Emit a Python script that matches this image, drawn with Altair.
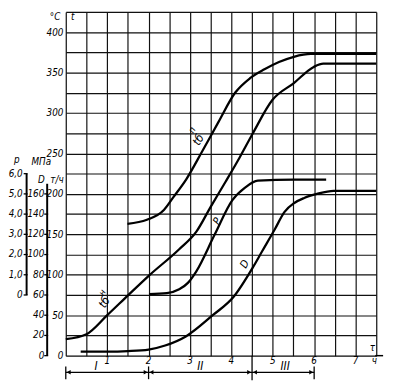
import altair as alt
import pandas as pd

FONT = "Liberation Sans Narrow, DejaVu Sans Condensed, Liberation Sans, sans-serif"

# ---------------- data ----------------
tau_grid = [0.5 * i for i in range(16)]          # vertical grid, h
t_grid = [25 * i for i in range(18)]             # horizontal grid, °C
tau_labels = [1, 2, 3, 4, 5, 6, 7]
t_axis_labels = [0, 50, 100, 150, 200, 250, 300, 350, 400]
D_axis_labels = [0, 20, 40, 60, 80, 100, 120, 140, 160]
p_axis_labels = [0, 1, 2, 3, 4, 5, 6]

# superheated steam temperature t_б^п, °C
tp_tau = [1.49, 1.96, 2.37, 2.60, 2.91, 3.3, 3.69, 4.09, 4.45, 4.80, 5.15, 5.51, 5.92, 7.5]
tp_val = [163, 168, 180, 196, 218, 253, 289, 325, 343, 354, 363, 369.5, 373, 373]
# saturation temperature t_б^н, °C
tn_tau = [0, 0.5, 0.99, 1.51, 2.01, 2.74, 3.15, 3.5, 3.86, 4.2, 4.52, 4.99, 5.51, 5.99, 6.22, 7.5]
tn_val = [20.5, 26.6, 49.5, 74.9, 99, 131.6, 153, 184, 215, 245, 275, 316, 337, 357, 361, 361]
# pressure p, MPa
p_tau = [2.01, 2.44, 2.74, 2.95, 3.15, 3.6, 4.02, 4.33, 4.64, 5.51, 6.29]
p_val = [0.04, 0.09, 0.28, 0.6, 1.16, 3.0, 4.68, 5.31, 5.65, 5.7, 5.7]
# steam flow D, t/h
D_tau = [0.36, 1.0, 1.5, 2.0, 2.4, 2.9, 3.55, 4.05, 4.53, 4.74, 5.05, 5.28, 5.52, 5.76, 6.07, 6.47, 7.5]
D_val = [4, 4, 4.5, 6, 10, 19, 40, 58, 88, 103, 125, 142, 151, 156, 160, 163, 163]

# phases
phase_start = [0, 2, 4.5]
phase_end = [2, 4.5, 6]
phase_names = ["I", "II", "III"]
phase_label_tau = [0.73, 3.25, 5.3]


# all curves share the temperature grid: p = (t-75)/25, D = 0.8 t
def p_to_t(p):
    return 75 + 25 * p


def D_to_t(d):
    return 1.25 * d


rows = []
for s, taus, vals in [("tp", tp_tau, tp_val), ("tn", tn_tau, tn_val),
                      ("p", p_tau, [p_to_t(v) for v in p_val]),
                      ("D", D_tau, [D_to_t(v) for v in D_val])]:
    for a, b in zip(taus, vals):
        rows.append({"series": s, "tau": a, "val": b})
curves = pd.DataFrame(rows)

XS = alt.Scale(domain=[0, 7.5], nice=False, zero=False)
YS = alt.Scale(domain=[0, 425], nice=False, zero=False)
XA = alt.Axis(values=tau_grid, grid=True, labels=False, ticks=False, domain=False,
              gridColor="#111", gridWidth=1.2, gridOpacity=1)
YA = alt.Axis(values=t_grid, grid=True, ticks=False, domain=False,
              gridColor="#111", gridWidth=1.2, gridOpacity=1,
              labelExpr="(datum.value % 50 == 0 && datum.value <= 400) ? datum.label : ''",
              labelFont=FONT, labelFontStyle="italic", labelFontSize=10,
              labelColor="black", labelPadding=3)


def X(field):
    return alt.X(field, type="quantitative", scale=XS, axis=XA, title=None)


def Y(field):
    return alt.Y(field, type="quantitative", scale=YS, axis=YA, title=None)


def txt(**kw):
    base = dict(font=FONT, fontStyle="italic", color="black", fontSize=10)
    base.update(kw)
    return base


lines = alt.Chart(curves).mark_line(color="black", strokeWidth=2.3, interpolate="monotone").encode(
    x=X("tau"), y=Y("val"), detail="series:N")

# curve labels
lab = pd.DataFrame({
    "text": ["tб", "п", "tб", "н", "P", "D"],
    "tau": [3.2, 3.05, 0.93, 0.88, 3.67, 4.33],
    "val": [267, 279, 66, 78, 166, 113],
    "size": [12, 9, 12, 9, 11, 11],
})
curve_labels = alt.Chart(lab).mark_text(**txt(angle=300)).encode(
    x=X("tau"), y=Y("val"), text="text:N", size=alt.Size("size:Q", scale=None))

# p axis (left column)
pdf = pd.DataFrame({"val": [p_to_t(v) for v in p_axis_labels],
                    "text": ["0" if v == 0 else f"{v:.1f}".replace(".", ",") for v in p_axis_labels]})
p_text = alt.Chart(pdf).mark_text(**txt(align="right", baseline="middle")).encode(
    x=alt.value(-44), y=Y("val"), text="text:N")
p_ticks = alt.Chart(pdf).mark_rule(color="black", strokeWidth=1.3).encode(
    x=alt.value(-43), x2=alt.value(-39), y=Y("val"))
p_bar = alt.Chart(pd.DataFrame({"val": [p_to_t(0)], "val2": [p_to_t(6)]})).mark_rule(
    color="black", strokeWidth=2).encode(x=alt.value(-40), y=Y("val"), y2="val2:Q")

# D axis
ddf = pd.DataFrame({"val": [D_to_t(v) for v in D_axis_labels], "text": [str(v) for v in D_axis_labels]})
D_text = alt.Chart(ddf).mark_text(**txt(align="right", baseline="middle")).encode(
    x=alt.value(-22), y=Y("val"), text="text:N")
D_ticks = alt.Chart(ddf).mark_rule(color="black", strokeWidth=1.3).encode(
    x=alt.value(-22), x2=alt.value(-18), y=Y("val"))
D_bar = alt.Chart(pd.DataFrame({"val": [0], "val2": [D_to_t(170)]})).mark_rule(
    color="black", strokeWidth=2).encode(x=alt.value(-19), y=Y("val"), y2="val2:Q")

# header texts (pixel positions relative to plot area)
headers = []
for s, px, py in [("p", -50, 151), ("МПа", -25, 153), ("D", -25, 172), ("т/ч", -9, 172),
                  ("°C", -11, 5), ("t", 7, 5), ("τ", 313, 343), ("ч", 315, 357)]:
    headers.append(alt.Chart(pd.DataFrame({"a": [0]})).mark_text(
        **txt(text=s, align="center", baseline="middle")).encode(x=alt.value(px), y=alt.value(py)))

# x tick labels
xl = pd.DataFrame({"tau": tau_labels, "text": [str(v) for v in tau_labels]})
x_text = alt.Chart(xl).mark_text(**txt(baseline="middle")).encode(
    x=X("tau"), y=alt.value(357), text="text:N")

# bottom line extension
ext = alt.Chart(pd.DataFrame({"a": [0]})).mark_rule(color="black", strokeWidth=1.5).encode(
    x=alt.value(316), x2=alt.value(324), y=alt.value(351))

# phases
ph = pd.DataFrame({"start": phase_start, "end": phase_end, "name": phase_names, "lt": phase_label_tau})
ph_line = alt.Chart(ph).mark_rule(color="black", strokeWidth=1.3).encode(
    x=X("start"), x2="end:Q", y=alt.value(368))
ph_text = alt.Chart(ph).mark_text(**txt(baseline="bottom", fontSize=12)).encode(
    x=X("lt"), y=alt.value(369), text="name:N")
arrow_l = alt.Chart(ph.assign(at=ph["start"] + 0.07)).mark_point(
    shape="triangle-left", filled=True, color="black", size=22, opacity=1).encode(x=X("at"), y=alt.value(368))
arrow_r = alt.Chart(ph.assign(at=ph["end"] - 0.07)).mark_point(
    shape="triangle-right", filled=True, color="black", size=22, opacity=1).encode(x=X("at"), y=alt.value(368))
short_ticks = alt.Chart(pd.DataFrame({"tau": [phase_start[0], phase_start[1], phase_end[2]]})).mark_rule(
    color="black", strokeWidth=1.3).encode(x=X("tau"), y=alt.value(362), y2=alt.value(375))
long_tick = alt.Chart(pd.DataFrame({"tau": [phase_start[2]]})).mark_rule(
    color="black", strokeWidth=1.3).encode(x=X("tau"), y=alt.value(351), y2=alt.value(376))

chart = alt.layer(
    lines, curve_labels, p_bar, p_ticks, p_text, D_bar, D_ticks, D_text, *headers,
    x_text, ext, ph_line, short_ticks, long_tick, arrow_l, arrow_r, ph_text
).properties(
    width=317, height=351,
    autosize=alt.AutoSizeParams(type="none"),
    padding={"left": 59, "top": 0, "right": 12, "bottom": 27},
).configure_view(stroke="black", strokeWidth=1.6).configure(background="white")

chart.save("out.html", embed_options={"renderer": "svg", "actions": False})
